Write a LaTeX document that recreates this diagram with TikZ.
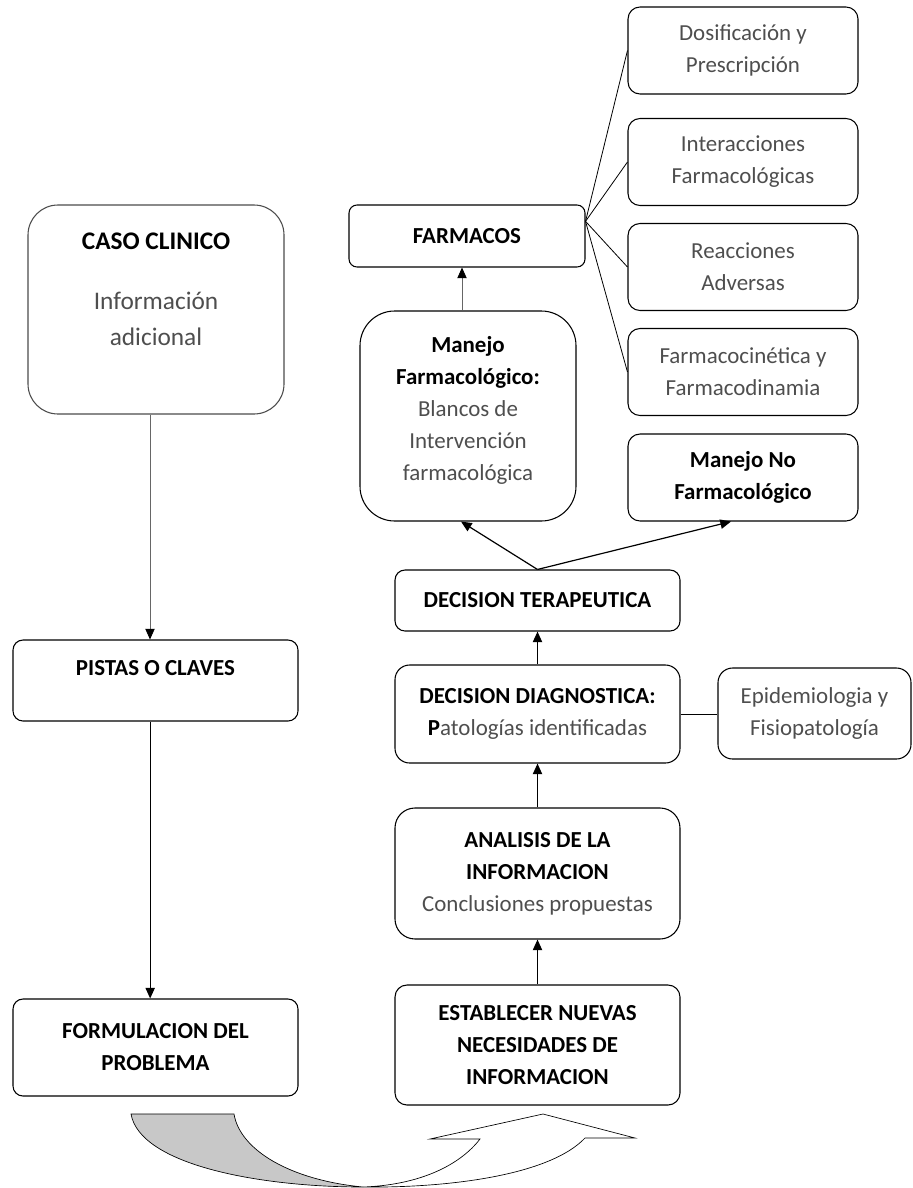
\documentclass[tikz,border=0pt]{standalone}
\usepackage{fontspec}
\setmainfont{Carlito}
\usetikzlibrary{arrows.meta,calc}
\definecolor{txtgray}{RGB}{78,78,78}
\definecolor{backgray}{RGB}{200,200,200}
\newcommand\gtxt[1]{{\color{txtgray}#1}}

\begin{document}
\begin{tikzpicture}[x=0.75pt,y=-0.75pt,
  every node/.style={font=\fontsize{17.2pt}{24pt}\selectfont},
  box/.style={draw=black, line width=0.8pt, rounded corners=#1, inner sep=0pt, align=center},
  box/.default=7.5pt,
  wide/.style={minimum width=213.75pt},
  side/.style={box=9pt, minimum width=172.5pt, minimum height=65.25pt},
  link/.style={line width=0.9pt, -{Triangle[length=8pt,width=7pt]}},
  thinlink/.style={line width=0.6pt, draw=black!60, -{Triangle[length=8pt,width=7pt,color=black]}},
  fan/.style={line width=0.6pt},
]
\useasboundingbox (0,0) rectangle (913,1188);

% left column
\node[box=22.5pt, draw=black!70, minimum width=192pt, minimum height=156.75pt] (caso) at (156,309.5) {};
\node[align=center, font=\fontsize{19pt}{27pt}\selectfont] (casotxt) at (156,289) {\textbf{CASO CLINICO}\\[18pt]\gtxt{Información}\\\gtxt{adicional}};
\node[box, wide, minimum height=60.75pt] (pistas) at (155.5,680.5) {};
\node (pistastxt) at (155.5,668) {\textbf{PISTAS O CLAVES}};
\node[box, wide, minimum height=72.75pt] (formul) at (155.5,1047.5) {\textbf{FORMULACION DEL}\\\textbf{PROBLEMA}};

% central column
\node[box=9pt, wide, minimum height=90pt] (estab) at (537.5,1045) {\textbf{ESTABLECER NUEVAS}\\\textbf{NECESIDADES DE}\\\textbf{INFORMACION}};
\node[box=15pt, wide, minimum height=98.25pt] (analisis) at (537.5,873.5) {\textbf{ANALISIS DE LA}\\\textbf{INFORMACION}\\\gtxt{Conclusiones propuestas}};
\node[box=11pt, wide, minimum height=73.5pt] (decdiag) at (537.5,714) {\textbf{DECISION DIAGNOSTICA:}\\\textbf{P}\gtxt{atologías identificadas}};
\node[box=11pt, minimum width=144.75pt, minimum height=68.25pt] (epid) at (814.5,713.5) {\gtxt{Epidemiologia y}\\\gtxt{Fisiopatología}};
\node[box, wide, minimum height=45.75pt] (decter) at (537.5,600.5) {\textbf{DECISION TERAPEUTICA}};
\node[box=26pt, minimum width=162pt, minimum height=157.5pt] (manejof) at (468,416) {};
\node[align=center] (manejoftxt) at (468,410) {\textbf{Manejo}\\\textbf{Farmacológico:}\\\gtxt{Blancos de}\\\gtxt{Intervención}\\\gtxt{farmacológica}};
\node[box=6pt, minimum width=177pt, minimum height=46.5pt] (farmacos) at (467,236) {\textbf{FARMACOS}};

% right column
\node[side] (dosif) at (743,50.5) {\gtxt{Dosificación y}\\\gtxt{Prescripción}};
\node[side] (inter) at (743,162) {\gtxt{Interacciones}\\\gtxt{Farmacológicas}};
\node[side] (reac) at (743,267) {\gtxt{Reacciones}\\\gtxt{Adversas}};
\node[side] (cinet) at (743,372) {\gtxt{Farmacocinética y}\\\gtxt{Farmacodinamia}};
\node[side] (nofarm) at (743,477.5) {\textbf{Manejo No}\\\textbf{Farmacológico}};

% connectors
\draw[thinlink] ([xshift=-4.5pt]caso.south) -- ([xshift=-4.5pt]caso.south |- pistas.north);
\draw[link] ([xshift=-4pt]pistas.south) -- ([xshift=-4pt]pistas.south |- formul.north);
\draw[link] (estab.north) -- (analisis.south);
\draw[link] (analisis.north) -- (decdiag.south);
\draw[link] (decdiag.north) -- (decter.south);
\draw[line width=0.75pt] (decdiag.east) -- (decdiag.east -| epid.west);
\draw[link] (decter.north) -- ([xshift=-5.25pt]manejof.south);
\draw[link] (decter.north) -- ([xshift=-9pt]nofarm.south);
\draw[thinlink] ([xshift=-4.5pt]manejof.north) -- ([xshift=-4.5pt]manejof.north |- farmacos.south);
\coordinate (fanpt) at ([yshift=11pt]farmacos.east);
\foreach \n in {dosif,inter,reac,cinet} \draw[fan] (fanpt) -- (\n.west);

% curved return arrow
\filldraw[fill=backgray, draw=black, line width=0.5pt]
  (131,1114) -- (234,1114) .. controls (240,1150) and (290,1180) .. (363,1187)
  .. controls (260,1187) and (140,1165) .. (131,1114) -- cycle;
\filldraw[fill=white, draw=black, line width=0.5pt]
  (363,1187) .. controls (450,1188) and (550,1175) .. (585,1138)
  -- (635,1138) -- (543,1114) -- (430,1139) -- (480,1139)
  .. controls (460,1165) and (420,1185) .. (363,1187) -- cycle;
\end{tikzpicture}
\end{document}
